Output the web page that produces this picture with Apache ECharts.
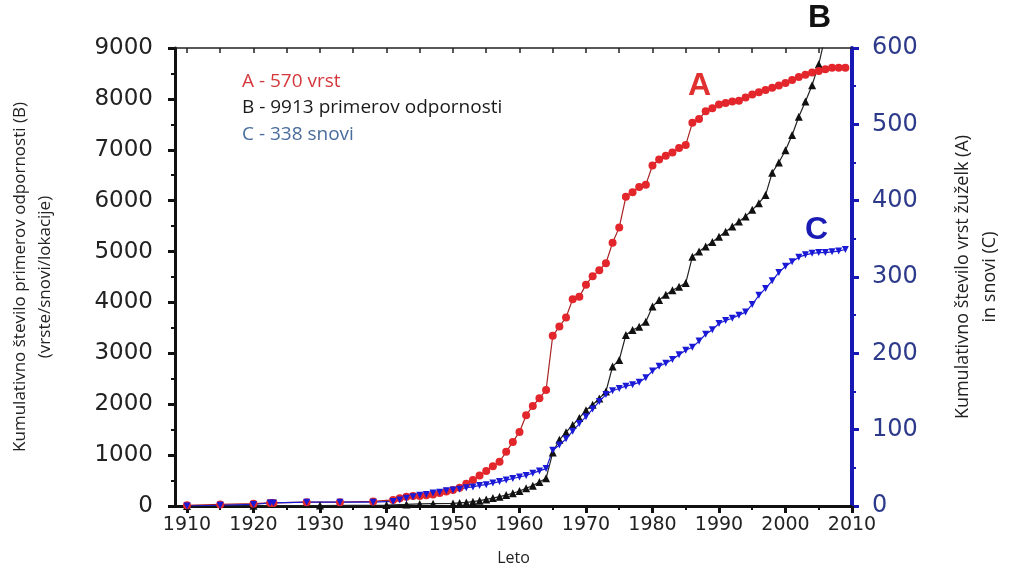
<!DOCTYPE html>
<html>
<head>
<meta charset="utf-8">
<script src="https://cdn.jsdelivr.net/npm/echarts@6/dist/echarts.min.js"></script>
<style>html,body{margin:0;padding:0;background:#fff}#c{width:1011px;height:567px}</style>
</head>
<body>
<div id="c"></div>
<script>
// ---- data ----
const xTickLabels = [1910, 1920, 1930, 1940, 1950, 1960, 1970, 1980, 1990, 2000, 2010];
const xMinorTicks = [1915, 1925, 1935, 1945, 1955, 1965, 1975, 1985, 1995, 2005];
const xTopTicks = [1910, 1915, 1920, 1925, 1930, 1935, 1940, 1945, 1950, 1955, 1960, 1965, 1970, 1975, 1980, 1985, 1990, 1995, 2000, 2005];

// A: cumulative insect species (right axis)
const yearsA = [1910, 1915, 1920, 1922.5, 1923, 1928, 1933, 1938, 1941, 1942, 1943, 1944, 1945, 1946, 1947, 1948, 1949,
  1950, 1951, 1952, 1953, 1954, 1955, 1956, 1957, 1958, 1959, 1960, 1961, 1962, 1963, 1964, 1965, 1966, 1967, 1968, 1969,
  1970, 1971, 1972, 1973, 1974, 1975, 1976, 1977, 1978, 1979, 1980, 1981, 1982, 1983, 1984, 1985, 1986, 1987, 1988, 1989,
  1990, 1991, 1992, 1993, 1994, 1995, 1996, 1997, 1998, 1999, 2000, 2001, 2002, 2003, 2004, 2005, 2006, 2007, 2008, 2009];
const valuesA = [1, 2, 3, 4, 4, 5, 5, 6, 8, 10, 12, 13, 13, 14, 15, 17, 19,
  21, 24, 29, 34, 40, 46, 52, 58, 71, 84, 97, 119, 131, 141, 152, 223, 235, 247, 271, 274,
  290, 301, 309, 318, 345, 365, 405, 411, 418, 421, 446, 454, 459, 463, 469, 473, 502, 507, 517, 521,
  526, 528, 530, 531, 535, 539, 542, 545, 548, 551, 554, 558, 562, 565, 568, 570, 572, 574, 574, 574];

// B: cumulative resistance cases (left axis)
const yearsB = [1910, 1920, 1930, 1940, 1943, 1945, 1947, 1950, 1951, 1952, 1953, 1954, 1955, 1956, 1957, 1958, 1959,
  1960, 1961, 1962, 1963, 1964, 1965, 1966, 1967, 1968, 1969, 1970, 1971, 1972, 1973, 1974, 1975, 1976, 1977, 1978, 1979,
  1980, 1981, 1982, 1983, 1984, 1985, 1986, 1987, 1988, 1989, 1990, 1991, 1992, 1993, 1994, 1995, 1996, 1997, 1998, 1999,
  2000, 2001, 2002, 2003, 2004, 2005, 2006, 2007, 2008, 2009];
const valuesB = [0, 5, 10, 20, 30, 40, 45, 50, 60, 70, 85, 105, 130, 155, 183, 215, 250,
  295, 348, 400, 470, 544, 1050, 1300, 1450, 1590, 1730, 1880, 1990, 2110, 2250, 2740, 2870, 3360, 3460, 3520, 3620,
  3920, 4050, 4150, 4240, 4310, 4380, 4900, 5000, 5100, 5190, 5290, 5390, 5490, 5590, 5690, 5820, 5950, 6110, 6550, 6750,
  6990, 7290, 7650, 7950, 8270, 8680, 9250, 9500, 9700, 9913];

// C: cumulative compounds (right axis)
const yearsC = [1910, 1915, 1920, 1922.5, 1923, 1928, 1933, 1938, 1941, 1942, 1943, 1944, 1945, 1946, 1947, 1948, 1949,
  1950, 1951, 1952, 1953, 1954, 1955, 1956, 1957, 1958, 1959, 1960, 1961, 1962, 1963, 1964, 1965, 1966, 1967, 1968, 1969,
  1970, 1971, 1972, 1973, 1974, 1975, 1976, 1977, 1978, 1979, 1980, 1981, 1982, 1983, 1984, 1985, 1986, 1987, 1988, 1989,
  1990, 1991, 1992, 1993, 1994, 1995, 1996, 1997, 1998, 1999, 2000, 2001, 2002, 2003, 2004, 2005, 2006, 2007, 2008, 2009];
const valuesC = [0, 1, 2, 4, 4, 5, 5, 5, 6, 8, 10, 12, 14, 15, 17, 18, 20,
  21, 22, 24, 25, 27, 28, 30, 32, 34, 36, 38, 40, 43, 46, 49, 73, 80, 88, 98, 108,
  117, 127, 137, 146, 151, 154, 157, 159, 162, 168, 177, 183, 187, 192, 198, 204, 208, 216, 225, 231,
  239, 243, 246, 250, 254, 264, 276, 285, 295, 306, 314, 320, 326, 329, 331, 332, 332, 333, 334, 336];

const legendA = 'A - 570 vrst';
const legendB = 'B - 9913 primerov odpornosti';
const legendC = 'C - 338 snovi';

const zip = (xs, ys) => xs.map((x, i) => [x, ys[i]]);
const plain = v => String(v);

const chart = echarts.init(document.getElementById('c'), null, {renderer: 'canvas'});
const X_MIN = 1908.2, X_MAX = 2010;
const numFont = 'DejaVu Sans';
const txtFont = 'Open Sans';

chart.setOption({
  animation: false,
  backgroundColor: '#fff',
  grid: {left: 175, right: 159, top: 48, bottom: 61, containLabel: false, outerBoundsMode: 'none'},
  legend: {
    orient: 'vertical', left: 232, top: 67, icon: 'none', itemWidth: 0, itemHeight: 18, itemGap: 7.5,
    selectedMode: false,
    textStyle: {fontSize: 19, fontFamily: txtFont},
    data: [
      {name: legendA, textStyle: {color: '#d4383c'}},
      {name: legendB, textStyle: {color: '#1a1a1a'}},
      {name: legendC, textStyle: {color: '#4a6c9c'}}
    ]
  },
  xAxis: [
    {
      type: 'value', position: 'bottom', min: X_MIN, max: X_MAX,
      axisLine: {onZero: false, lineStyle: {color: '#111', width: 3}},
      axisTick: {customValues: xTickLabels, length: 7, lineStyle: {color: '#111', width: 3}},
      axisLabel: {customValues: xTickLabels, formatter: plain, fontSize: 19, fontFamily: numFont, color: '#222', margin: 10},
      splitLine: {show: false},
      name: 'Leto', nameLocation: 'middle', nameGap: 44,
      nameTextStyle: {fontSize: 16, fontFamily: txtFont, color: '#222'}
    },
    {
      type: 'value', position: 'top', min: X_MIN, max: X_MAX,
      axisLine: {onZero: false, lineStyle: {color: '#222', width: 1.5}},
      axisTick: {inside: true, customValues: xTopTicks, length: 5, lineStyle: {color: '#222', width: 1.5}},
      axisLabel: {show: false}, splitLine: {show: false}
    },
    {
      type: 'value', position: 'bottom', min: X_MIN, max: X_MAX,
      axisLine: {onZero: false, show: false},
      axisTick: {customValues: xMinorTicks, length: 4, lineStyle: {color: '#111', width: 2}},
      axisLabel: {show: false}, splitLine: {show: false}
    }
  ],
  yAxis: [
    {
      type: 'value', position: 'left', min: 0, max: 9000, interval: 1000,
      axisLine: {show: true, onZero: false, lineStyle: {color: '#111', width: 3}},
      axisTick: {show: true, length: 7, lineStyle: {color: '#111', width: 3}},
      minorTick: {show: true, splitNumber: 2, length: 4, lineStyle: {color: '#111', width: 2}},
      axisLabel: {formatter: plain, fontSize: 23, fontFamily: numFont, color: '#222', margin: 22},
      splitLine: {show: false},
      name: 'Kumulativno število primerov odpornosti (B)\n(vrste/snovi/lokacije)',
      nameLocation: 'middle', nameRotate: 90, nameGap: 117,
      nameTextStyle: {fontSize: 17, fontFamily: txtFont, color: '#222', lineHeight: 25}
    },
    {
      type: 'value', position: 'right', min: 0, max: 600, interval: 100,
      axisLine: {show: true, onZero: false, lineStyle: {color: '#1818b4', width: 4}},
      axisTick: {show: true, length: 7, lineStyle: {color: '#1818b4', width: 3}},
      minorTick: {show: true, splitNumber: 2, length: 4, lineStyle: {color: '#1818b4', width: 2}},
      axisLabel: {formatter: plain, fontSize: 24, fontFamily: numFont, color: '#2d3a8a', margin: 20},
      splitLine: {show: false},
      name: 'Kumulativno število vrst žuželk (A)\nin snovi (C)',
      nameLocation: 'middle', nameRotate: 90, nameGap: 97,
      nameTextStyle: {fontSize: 18, fontFamily: txtFont, color: '#222', lineHeight: 27}
    }
  ],
  series: [
    {
      name: legendB, type: 'line', xAxisIndex: 0, yAxisIndex: 0, data: zip(yearsB, valuesB),
      symbol: 'triangle', symbolSize: 8, color: '#111',
      lineStyle: {color: '#222', width: 1.2}, itemStyle: {color: '#111'}
    },
    {
      name: legendA, type: 'line', xAxisIndex: 0, yAxisIndex: 1, data: zip(yearsA, valuesA),
      symbol: 'circle', symbolSize: 8, color: '#e3262b',
      lineStyle: {color: '#a82222', width: 1.2}, itemStyle: {color: '#e3262b'}
    },
    {
      name: legendC, type: 'line', xAxisIndex: 0, yAxisIndex: 1, data: zip(yearsC, valuesC),
      symbol: 'triangle', symbolRotate: 180, symbolSize: 7, color: '#1a1ad6',
      lineStyle: {color: '#1a1ad6', width: 1.2}, itemStyle: {color: '#1a1ad6'}
    }
  ],
  graphic: [
    {type: 'text', left: 688, top: 70, style: {text: 'A', fill: '#e0302f', font: 'bold 32px "Liberation Sans"'}},
    {type: 'text', left: 808, top: 2, style: {text: 'B', fill: '#111', font: 'bold 32px "Liberation Sans"'}},
    {type: 'text', left: 805, top: 214, style: {text: 'C', fill: '#1a1ab4', font: 'bold 32px "Liberation Sans"'}}
  ]
});
</script>
</body>
</html>
